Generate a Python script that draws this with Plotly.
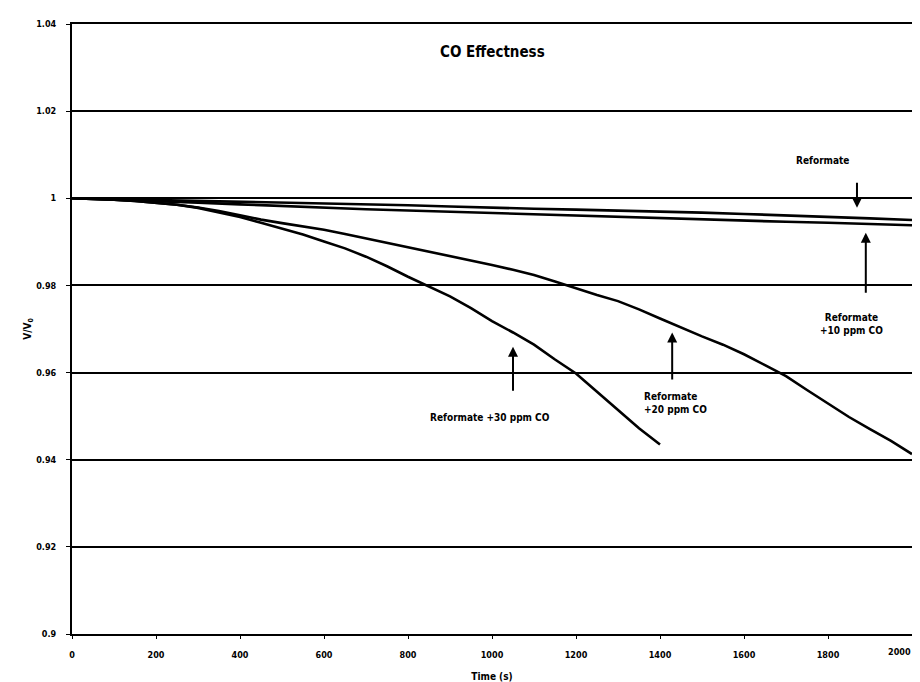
import plotly.graph_objects as go

# ---------------- data ----------------
t_ref = list(range(0, 2001, 100))
v_reformate = [1.0000, 0.9998, 0.9996, 0.9994, 0.9993, 0.9991, 0.9989, 0.9987, 0.9984, 0.9981,
               0.9978, 0.9976, 0.9974, 0.9972, 0.9970, 0.9967, 0.9964, 0.9961, 0.9958, 0.9954, 0.9950]

t_10 = list(range(0, 2001, 100))
v_10ppm = [1.0000, 0.9997, 0.9994, 0.9990, 0.9986, 0.9982, 0.9979, 0.9975, 0.9972, 0.9969,
           0.9966, 0.9964, 0.9961, 0.9958, 0.9955, 0.9952, 0.9949, 0.9946, 0.9944, 0.9941, 0.9938]

t_20 = list(range(0, 2001, 50))
v_20ppm = [1.0000, 0.9999, 0.9997, 0.9994, 0.9990, 0.9985, 0.9979, 0.9971, 0.9961, 0.9951,
           0.9943, 0.9935, 0.9928, 0.9918, 0.9908, 0.9897, 0.9887, 0.9878, 0.9868, 0.9858,
           0.9847, 0.9836, 0.9824, 0.9809, 0.9793, 0.9778, 0.9764, 0.9745, 0.9724, 0.9703,
           0.9683, 0.9664, 0.9642, 0.9617, 0.9592, 0.9560, 0.9528, 0.9498, 0.9470, 0.9443, 0.9413]

t_30 = list(range(0, 1401, 50))
v_30ppm = [1.0000, 0.9999, 0.9997, 0.9994, 0.9990, 0.9985, 0.9978, 0.9968, 0.9957, 0.9944,
           0.9930, 0.9917, 0.9901, 0.9885, 0.9866, 0.9844, 0.9820, 0.9797, 0.9775, 0.9748,
           0.9718, 0.9692, 0.9664, 0.9630, 0.9598, 0.9556, 0.9513, 0.9472, 0.9435]

x_ticks = list(range(0, 2001, 200))
x_tick_text = [str(v) for v in x_ticks]
y_ticks = [0.90, 0.92, 0.94, 0.96, 0.98, 1.00, 1.02, 1.04]
y_tick_text = ["0.9", "0.92", "0.94", "0.96", "0.98", "1", "1.02", "1.04"]

title_text = "CO Effectness"
x_title = "Time (s)"
y_title = "V/V<sub>0</sub>"

# ---------------- figure ----------------
FONT = "DejaVu Sans Condensed, Liberation Sans Narrow, Arial Narrow, sans-serif"

fig = go.Figure()
series = [
    (t_ref, v_reformate, "Reformate"),
    (t_10, v_10ppm, "Reformate +10 ppm CO"),
    (t_20, v_20ppm, "Reformate +20 ppm CO"),
    (t_30, v_30ppm, "Reformate +30 ppm CO"),
]
for t, v, name in series:
    fig.add_trace(go.Scatter(x=t, y=v, mode="lines", name=name,
                             line=dict(color="black", width=2.6)))

ann_font = dict(family=FONT, size=10, color="black", weight="bold")
tick_font = dict(family=FONT, size=9, color="black", weight="bold")

annotations = [
    dict(x=1000, y=1.0335, text=title_text, showarrow=False,
         font=dict(family=FONT, size=15, color="black", weight="bold")),
    dict(x=1788, y=1.0087, text="Reformate", showarrow=False, font=ann_font),
    dict(x=1857, y=0.9712, text="Reformate<br>+10 ppm CO", showarrow=False,
         font=ann_font, align="center"),
    dict(x=1357, y=0.9530, text="Reformate<br>+20 ppm CO", showarrow=False,
         font=ann_font, align="left", xanchor="left"),
    dict(x=995, y=0.9496, text="Reformate +30 ppm CO", showarrow=False, font=ann_font),
    # last x tick label (drawn as annotation so it stays inside the visible page)
    dict(x=x_ticks[-1], y=0, xref="x", yref="paper", yanchor="top", xanchor="right",
         yshift=-11, xshift=1, text=x_tick_text[-1], showarrow=False, font=tick_font),
]
# arrows: (tip x, tip y, tail offset in px)
arrows = [(1869, 0.9978, -27), (1890, 0.9921, 62), (1429, 0.9692, 49), (1050, 0.9659, 46)]
for ax_, ay_, off in arrows:
    annotations.append(dict(x=ax_, y=ay_, ax=0, ay=off, text=" ", showarrow=True,
                            arrowhead=2, arrowsize=1, arrowwidth=2, arrowcolor="black",
                            font=dict(size=1)))

# page body has an 8px margin; the plot box is placed to match the reference
fig.update_layout(
    width=920, height=674,
    margin=dict(l=64, r=16, t=16, b=48),
    paper_bgcolor="white", plot_bgcolor="white",
    showlegend=False,
    font=dict(family=FONT, size=10, color="black", weight="bold"),
    annotations=annotations,
)
fig.update_xaxes(
    range=[0, 2000], tickvals=x_ticks, ticktext=x_tick_text[:-1] + [""],
    showgrid=False, zeroline=False, automargin=False,
    showline=True, linecolor="black", linewidth=2, mirror=True,
    ticks="outside", ticklen=3, tickcolor="black",
    ticklabelstandoff=8,
    tickfont=tick_font,
    title=dict(text=x_title, standoff=14,
               font=dict(family=FONT, size=10, color="black", weight="bold")),
)
fig.update_yaxes(
    range=[0.9, 1.04], tickvals=y_ticks, ticktext=y_tick_text, automargin=False,
    showgrid=True, gridcolor="black", gridwidth=2, zeroline=False,
    showline=True, linecolor="black", linewidth=2, mirror=True,
    ticks="outside", ticklen=4, tickcolor="black", ticklabelstandoff=8,
    tickfont=tick_font,
    title=dict(text=y_title, standoff=3,
               font=dict(family=FONT, size=10, color="black", weight="bold")),
)

fig.write_html("out.html")
